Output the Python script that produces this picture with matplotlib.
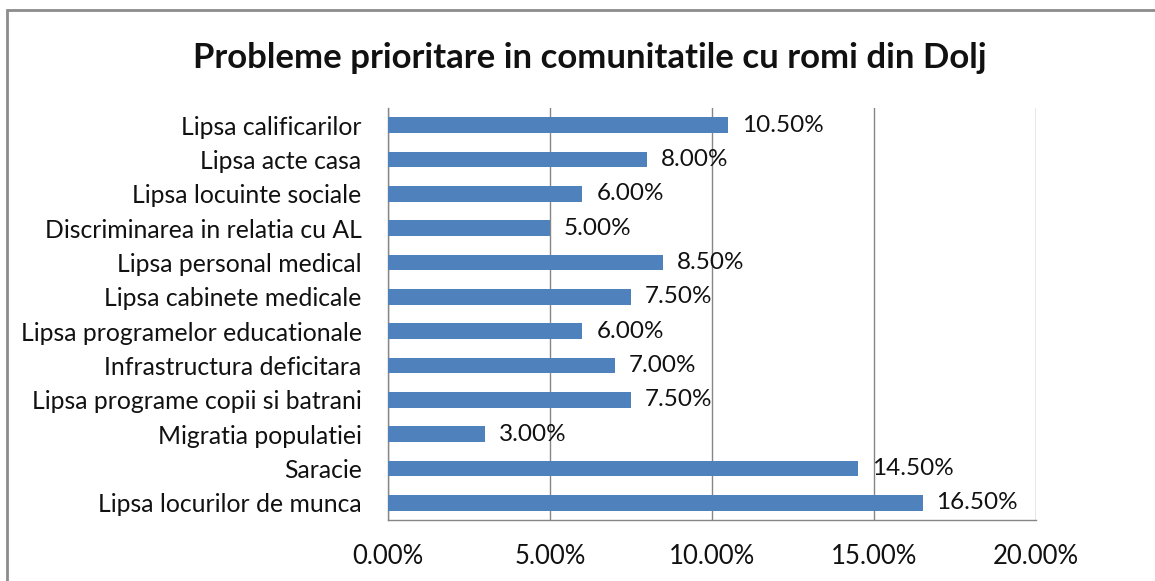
import matplotlib.pyplot as plt
from matplotlib.patches import Rectangle

# data (top to bottom as shown)
categories = ["Lipsa calificarilor", "Lipsa acte casa", "Lipsa locuinte sociale",
              "Discriminarea in relatia cu AL", "Lipsa personal medical",
              "Lipsa cabinete medicale", "Lipsa programelor educationale",
              "Infrastructura deficitara", "Lipsa programe copii si batrani",
              "Migratia populatiei", "Saracie", "Lipsa locurilor de munca"]
values = [10.5, 8.0, 6.0, 5.0, 8.5, 7.5, 6.0, 7.0, 7.5, 3.0, 14.5, 16.5]
x_ticks = [0, 5, 10, 15, 20]
title = "Probleme prioritare in comunitatile cu romi din Dolj"

plt.rcParams['font.family'] = ['Lato', 'DejaVu Sans']

fig = plt.figure(figsize=(11.55, 5.81), dpi=100)
ax = fig.add_axes([388 / 1155, 1 - 520 / 581, (1036 - 388) / 1155, (520 - 108) / 581])

ypos = list(range(len(categories)))
ax.barh(ypos, values, height=0.46, color='#4F81BD', zorder=3)
for y, v in zip(ypos, values):
    ax.annotate(f"{v:.2f}%", (v, y), xytext=(10, 0), textcoords='offset points',
                va='center', ha='left', fontsize=17.5, color='#111111', zorder=4)

ax.set_ylim(len(categories) - 0.5, -0.5)
ax.set_yticks(ypos)
ax.set_yticklabels(categories, fontsize=17.8)
ax.set_xlim(0, 20)
ax.set_xticks(x_ticks)
ax.set_xticklabels([f"{t:.2f}%" for t in x_ticks], fontsize=18.5)
ax.tick_params(axis='both', length=0, colors='#111111')
ax.tick_params(axis='x', pad=17)
ax.tick_params(axis='y', pad=19)
ax.grid(axis='x', color='#868686', linewidth=1, zorder=0)
ax.set_axisbelow(True)
for side in ['top', 'right']:
    ax.spines[side].set_visible(False)
for side in ['left', 'bottom']:
    ax.spines[side].set_color('#868686')
    ax.spines[side].set_linewidth(1)

fig.text(590 / 1155, 1 - 58 / 581, title, ha='center', va='center',
         fontsize=25, fontweight='bold', color='#111111')

# chart border
fig.patches.append(Rectangle((7 / 1155, -0.1), 1.2, 1.1 - 10 / 581,
                             transform=fig.transFigure, fill=False,
                             edgecolor='#8c8c8c', linewidth=2))

fig.savefig('out.png', dpi=100)
